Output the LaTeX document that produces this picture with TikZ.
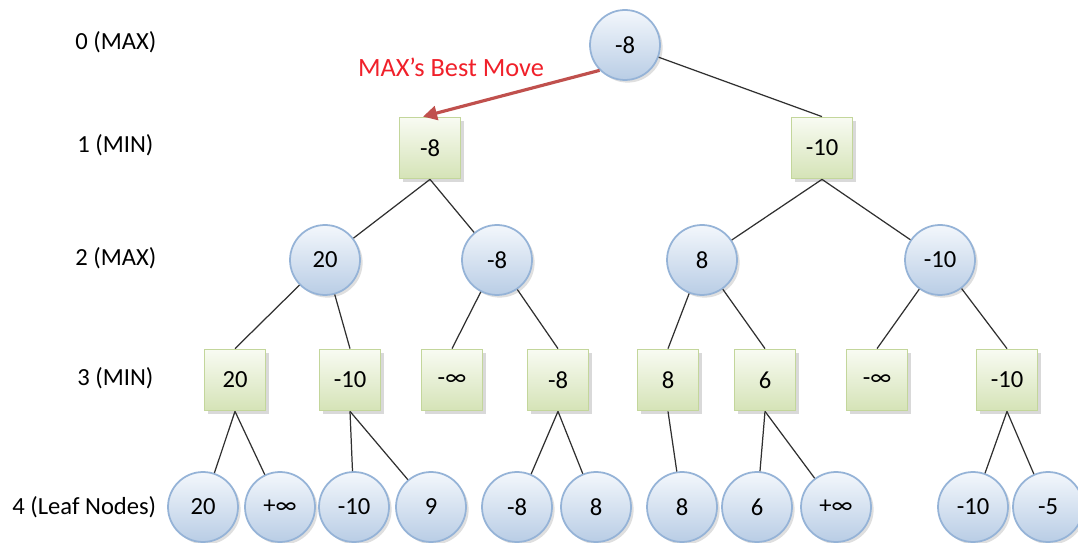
\documentclass[tikz,border=0pt]{standalone}
\usepackage{fontspec}
\setmainfont{Carlito}
\usetikzlibrary{positioning,arrows.meta,shadows}
\definecolor{maxedge}{HTML}{95B3D7}
\definecolor{maxtop}{HTML}{F3F7FC}
\definecolor{maxbot}{HTML}{B9CDE5}
\definecolor{minedge}{HTML}{C3D69B}
\definecolor{mintop}{HTML}{F8FBF2}
\definecolor{minbot}{HTML}{D5E3B7}
\definecolor{bestred}{HTML}{C0504D}
\definecolor{notered}{HTML}{F0202A}
\definecolor{edgegray}{HTML}{303030}

\begin{document}
\begin{tikzpicture}[x=0.02cm,y=-0.02cm,font=\fontsize{14}{16}\selectfont,
  maxnode/.style={circle,draw=maxedge,line width=1pt,top color=maxtop,bottom color=maxbot,
    minimum size=1.4cm,inner sep=0pt,
    drop shadow={shadow xshift=1.5pt,shadow yshift=-1.5pt,opacity=0.25}},
  minnode/.style={rectangle,draw=minedge,line width=1pt,top color=mintop,bottom color=minbot,
    minimum size=1.22cm,inner sep=0pt,
    drop shadow={shadow xshift=2pt,shadow yshift=-2pt,opacity=0.3}},
  level/.style={anchor=west,inner sep=0pt},
  edge/.style={draw=edgegray,line width=0.7pt},
  bestmove/.style={draw=bestred,line width=1.8pt,-{Triangle[length=8pt,width=8pt]}}]
\useasboundingbox (0,0) rectangle (1078,543);

% level labels
\node[level] (lab0) at (75,42)  {0 (MAX)};
\node[level] (lab1) at (77,145) {1 (MIN)};
\node[level] (lab2) at (75,258) {2 (MAX)};
\node[level] (lab3) at (77,378) {3 (MIN)};
\node[level] (lab4) at (12,507) {4 (Leaf Nodes)};

% level 0 and 1
\node[maxnode] (n0)  at (625,45)  {-8};
\node[minnode] (n1a) at (430,148) {-8};
\node[minnode] (n1b) at (822,148) {-10};

% level 2
\node[maxnode] (n2a) at (325,260) {20};
\node[maxnode] (n2b) at (497,260) {-8};
\node[maxnode] (n2c) at (702,260) {8};
\node[maxnode] (n2d) at (940,260) {-10};

% level 3
\node[minnode] (n3a) at (235,380)  {20};
\node[minnode] (n3b) at (350,380)  {-10};
\node[minnode] (n3c) at (452,380)  {-∞};
\node[minnode] (n3d) at (558,380)  {-8};
\node[minnode] (n3e) at (668,380)  {8};
\node[minnode] (n3f) at (765,380)  {6};
\node[minnode] (n3g) at (877,380)  {-∞};
\node[minnode] (n3h) at (1007,380) {-10};

% level 4 (leaves)
\node[maxnode] (n4a) at (203,507)  {20};
\node[maxnode] (n4b) at (280,507)  {+∞};
\node[maxnode] (n4c) at (354,507)  {-10};
\node[maxnode] (n4d) at (431,507)  {9};
\node[maxnode] (n4e) at (517,507)  {-8};
\node[maxnode] (n4f) at (596,507)  {8};
\node[maxnode] (n4g) at (682,507)  {8};
\node[maxnode] (n4h) at (757,507)  {6};
\node[maxnode] (n4i) at (836,507)  {+∞};
\node[maxnode] (n4j) at (973,507)  {-10};
\node[maxnode] (n4k) at (1048,507) {-5};

% connectors
\draw[edge] (n0) -- (n1b.north);
\draw[edge] (n1a.south) -- (n2a);
\draw[edge] (n1a.south) -- (n2b);
\draw[edge] (n1b.south) -- (n2c);
\draw[edge] (n1b.south) -- (n2d);
\draw[edge] (n2a) -- (n3a.north);
\draw[edge] (n2a) -- (n3b.north);
\draw[edge] (n2b) -- (n3c.north);
\draw[edge] (n2b) -- (n3d.north);
\draw[edge] (n2c) -- (n3e.north);
\draw[edge] (n2c) -- (n3f.north);
\draw[edge] (n2d) -- (n3g.north);
\draw[edge] (n2d) -- (n3h.north);
\draw[edge] (n3a.south) -- (n4a);
\draw[edge] (n3a.south) -- (n4b);
\draw[edge] (n3b.south) -- (n4c);
\draw[edge] (n3b.south) -- (n4d);
\draw[edge] (n3d.south) -- (n4e);
\draw[edge] (n3d.south) -- (n4f);
\draw[edge] (n3e.south) -- (n4g);
\draw[edge] (n3f.south) -- (n4h);
\draw[edge] (n3f.south) -- (n4i);
\draw[edge] (n3h.south) -- (n4j);
\draw[edge] (n3h.south) -- (n4k);

% best move
\draw[bestmove] (n0.225) -- ([xshift=-4pt]n1a.north);
\node[text=notered,font=\fontsize{15}{17}\selectfont] (best) at (451,67) {MAX’s Best Move};
\end{tikzpicture}
\end{document}
